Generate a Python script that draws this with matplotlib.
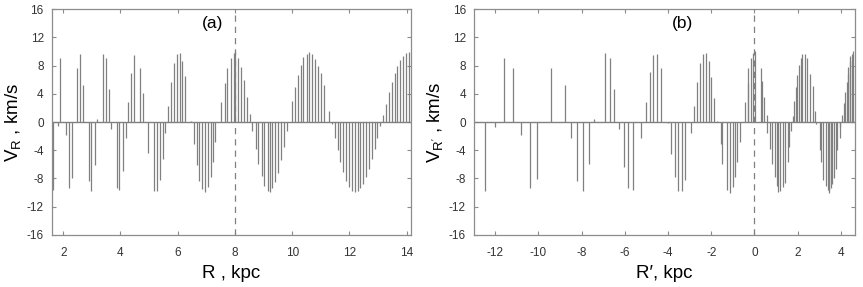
import matplotlib
matplotlib.use("Agg")
import matplotlib.pyplot as plt

plt.rcParams["font.family"] = ["Liberation Sans", "DejaVu Sans"]
plt.rcParams["axes.unicode_minus"] = False

# ── Panel (a): R, kpc vs V_R, km/s ───────────────────────────────────────────
R_a = [1.66, 1.82, 1.89, 2.10, 2.20, 2.31, 2.49, 2.59, 2.69, 2.90, 2.97, 3.11,
       3.18, 3.39, 3.49, 3.60, 3.67, 3.87, 3.94, 4.08, 4.19, 4.26, 4.36, 4.47,
       4.68, 4.78, 4.95, 5.16, 5.27, 5.37, 5.48, 5.55, 5.65, 5.76, 5.86, 5.97,
       6.07, 6.14, 6.24, 6.45, 6.56, 6.66, 6.73, 6.84, 6.94, 7.05, 7.15, 7.25,
       7.32, 7.53, 7.64, 7.74, 7.85, 7.95, 8.01, 8.11, 8.22, 8.32, 8.43, 8.53,
       8.61, 8.72, 8.82, 8.93, 9.03, 9.14, 9.24, 9.31, 9.41, 9.52, 9.62, 9.73,
       9.83, 10.01, 10.11, 10.22, 10.32, 10.39, 10.53, 10.60, 10.70, 10.81,
       10.91, 11.02, 11.12, 11.30, 11.40, 11.51, 11.61, 11.68, 11.78, 11.89,
       11.99, 12.10, 12.20, 12.31, 12.38, 12.48, 12.59, 12.69, 12.79, 12.90,
       12.97, 13.07, 13.18, 13.28, 13.39, 13.49, 13.60, 13.67, 13.77, 13.87,
       13.98, 14.08]
V_a = [-9.6, -0.6, 9.0, -1.8, -9.3, -8.0, 7.7, 9.7, 5.2, -8.4, -9.8, -6.1,
       0.4, 9.7, 9.0, 4.7, -1.0, -9.4, -9.6, -6.9, -2.3, 2.8, 7.0, 9.5,
       7.7, 4.1, -4.4, -9.7, -9.8, -8.2, -5.3, -1.6, 2.3, 5.7, 8.3, 9.7,
       9.8, 8.7, 6.5, 0.1, -3.1, -6.1, -8.3, -9.5, -9.9, -9.2, -7.8, -5.6,
       -2.8, 2.9, 5.5, 7.6, 9.1, 9.8, 10.0, 9.1, 7.8, 5.9, 3.6, 1.1,
       -1.3, -3.8, -5.9, -7.7, -9.0, -9.7, -9.9, -9.4, -8.5, -7.2, -5.4, -3.5,
       -1.3, 3.0, 4.9, 6.7, 8.1, 9.2, 9.7, 9.9, 9.6, 8.9,
       8.0, 6.9, 5.2, 1.6, -0.3, -2.2, -4.0, -5.6, -7.1, -8.3,
       -9.2, -9.7, -9.9, -9.8, -9.4, -8.8, -7.8, -6.7, -5.2, -3.8,
       -2.2, -0.5, 1.0, 2.6, 4.2, 5.6, 6.9, 7.9, 8.8, 9.4,
       9.8, 9.9]

# ── Panel (b): R', kpc vs V_R', km/s ─────────────────────────────────────────
R_b = [-12.45, -11.99, -11.57, -11.16, -10.79, -10.37, -10.05, -9.40, -8.75,
       -8.47, -8.19, -7.92, -7.64, -7.41, -6.90, -6.67, -6.48, -6.25, -6.02,
       -5.83, -5.60, -5.23, -5.00, -4.81, -4.68, -4.49, -4.31, -3.98, -3.84,
       -3.66, -3.52, -3.33, -3.19, -2.92, -2.78, -2.64, -2.50, -2.36, -2.22,
       -2.08, -1.99, -1.85, -1.71, -1.57, -1.48, -1.25, -1.11, -0.97, -0.88,
       -0.79, -0.65, -0.46, -0.32, -0.28, -0.14, -0.05, 0.03, 0.28, 0.37,
       0.46, 0.56, 0.60, 0.74, 0.79, 0.93, 1.02, 1.11, 1.20, 1.30, 1.39,
       1.53, 1.62, 1.67, 1.76, 1.85, 1.90, 1.99, 2.08, 2.13, 2.22, 2.36,
       2.45, 2.55, 2.69, 2.82, 2.87, 3.01, 3.10, 3.19, 3.29, 3.38, 3.43,
       3.47, 3.56, 3.61, 3.66, 3.75, 3.84, 3.94, 3.98, 4.03, 4.12, 4.17,
       4.26, 4.31, 4.35, 4.40, 4.44, 4.49, 4.56]
V_b = [-9.7, -0.7, 9.0, 7.7, -1.8, -9.3, -8.1, 7.7, 5.3,
       -2.3, -8.4, -9.8, -6.0, 0.4, 9.8, 9.0, 4.7, -1.0, -6.4,
       -9.4, -9.6, -2.3, 2.8, 7.1, 9.5, 9.7, 7.7, -0.1, -4.5,
       -7.8, -9.7, -9.8, -8.2, -1.6, 2.2, 5.7, 8.3, 9.7, 9.8,
       8.6, 6.4, 3.4, 0.1, -3.1, -6.0, -9.6, -10.0, -9.2, -7.8,
       -5.6, -2.8, 2.9, 5.5, 7.6, 9.1, 9.8, 10.0, 7.7, 5.8,
       3.5, 1.0, -1.5, -3.8, -6.0, -7.8, -9.1, -9.9, -9.7, -9.2, -8.6,
       -5.6, -3.5, -1.3, 0.8, 3.0, 5.0, 6.7, 8.1, 9.1, 9.7, 9.7,
       9.1, 6.8, 5.1, 1.6, -0.3, -4.0, -5.6, -8.2, -9.1, -9.6, -10.0,
       -9.8, -9.4, -8.8, -7.9, -6.7, -4.0, -2.3, -0.7, 1.0, 2.7, 4.2,
       5.7, 6.8, 7.8, 8.6, 9.3, 9.7, 10.0]

Y_TICKS = [-16, -12, -8, -4, 0, 4, 8, 12, 16]
XT_A = [2, 4, 6, 8, 10, 12, 14]
XT_B = [-12, -10, -8, -6, -4, -2, 0, 2, 4]

GRAY = "#808080"
FRAME = "#8c8c8c"


def style(ax, xlim, xticks, ref, ylabel, xlabel, tag, tag_x):
    ax.set_xlim(*xlim)
    ax.set_ylim(-16, 16)
    ax.set_xticks(xticks)
    ax.set_yticks(Y_TICKS)
    ax.tick_params(direction="in", top=True, right=True, length=3,
                   color=FRAME, labelsize=8.5, labelcolor="#333333")
    ax.tick_params(axis="x", pad=9)
    ax.tick_params(axis="y", pad=6)
    for s in ax.spines.values():
        s.set_color(FRAME)
        s.set_linewidth(0.9)
    ax.axhline(0, color=GRAY, linewidth=1.0, zorder=2)
    ax.axvline(ref, color=GRAY, linewidth=0.9, linestyle=(0, (5, 4)), zorder=3)
    ax.set_ylabel(ylabel, fontsize=13.5, labelpad=2)
    ax.set_xlabel(xlabel, fontsize=13.5, labelpad=4)
    ax.text(tag_x, 0.935, tag, transform=ax.transAxes, ha="center",
            va="center", fontsize=12.5)


fig = plt.figure(figsize=(8.63, 2.87), dpi=100)
ax1 = fig.add_axes([0.0603, 0.1812, 0.4159, 0.7874])
ax2 = fig.add_axes([0.5496, 0.1812, 0.4411, 0.7874])

ax1.vlines(R_a, 0, V_a, color=GRAY, linewidth=0.9)
style(ax1, (1.61, 14.15), XT_A, 8, r"V$_{\mathregular{R}}$ , km/s",
      "R , kpc", "(a)", 0.448)

ax2.vlines(R_b, 0, V_b, color=GRAY, linewidth=0.9)
style(ax2, (-12.96, 4.65), XT_B, 0, r"V$_{\mathregular{R'}}$ , km/s",
      "R\u2032, kpc", "(b)", 0.548)

fig.savefig("out.png", dpi=100)
